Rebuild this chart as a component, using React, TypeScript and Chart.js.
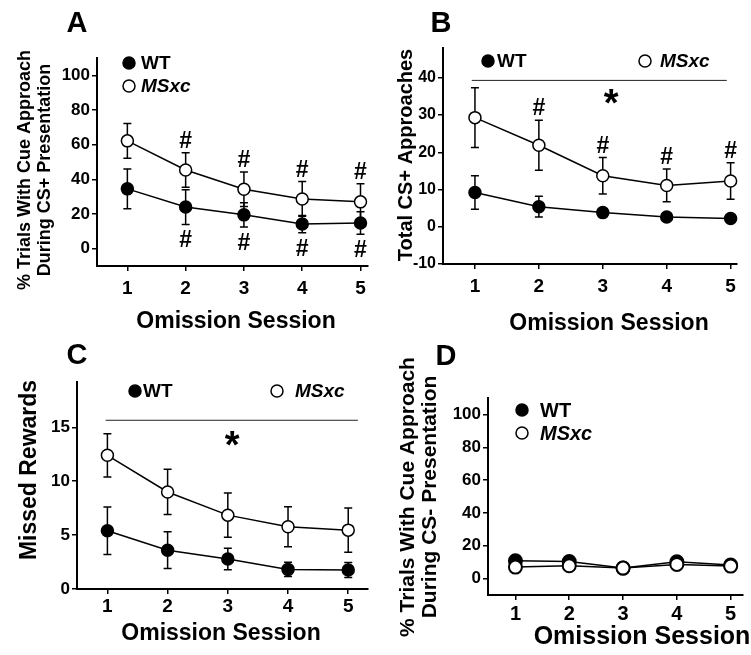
import React, { useEffect, useRef } from 'react';
import { Chart, registerables } from 'chart.js';
Chart.register(...registerables);

const FONT = '"Liberation Sans", Arial, Helvetica, sans-serif';

// ---------- data ----------
const sessions = [1, 2, 3, 4, 5];
const xTickValues = [1, 2, 3, 4, 5];

// Panel A: % trials with cue approach during CS+
const aWT = [34.5, 24, 19.5, 14.2, 14.8];
const aWTErr = [11.5, 10, 7, 5, 6.5];
const aMS = [62.2, 45.4, 34.3, 28.7, 27];
const aMSErr = [10, 10, 10, 10, 10.5];
const aYTicks = [0, 20, 40, 60, 80, 100];
const aHashAbove = [2, 3, 4, 5];
const aHashBelow = [2, 3, 4, 5];

// Panel B: total CS+ approaches
const bWT = [9.2, 5.4, 3.8, 2.6, 2.2];
const bWTErr = [4.5, 2.8, 1.1, 0.8, 0.7];
const bMS = [29.3, 21.9, 13.7, 11.1, 12.3];
const bMSErr = [8, 6.7, 4.9, 4.4, 4.9];
const bYTicks = [-10, 0, 10, 20, 30, 40];
const bHashAbove = [2, 3, 4, 5];
const bSigLine = [0.95, 4.94, 39.3]; // xStart, xEnd, y
const bStar = [3.13, 35.6];

// Panel C: missed rewards
const cWT = [5.4, 3.6, 2.78, 1.82, 1.76];
const cWTErr = [2.2, 1.7, 1.0, 0.65, 0.7];
const cMS = [12.4, 9.0, 6.85, 5.77, 5.46];
const cMSErr = [2.0, 2.1, 2.05, 1.85, 2.05];
const cYTicks = [0, 5, 10, 15];
const cSigLine = [0.97, 5.16, 15.65];
const cStar = [3.07, 14.2];

// Panel D: % trials with cue approach during CS-
const dWT = [10.8, 10.4, 6.4, 10.2, 8.3];
const dWTErr = [1.5, 1.5, 1.0, 1.5, 1.0];
const dMS = [7.0, 7.8, 6.4, 8.6, 7.6];
const dMSErr = [1.0, 1.0, 1.0, 1.0, 1.0];
const dYTicks = [0, 20, 40, 60, 80, 100];

// ---------- panel layout ----------
type LegendItem = { label: string; filled: boolean; x: number; y: number; tx: number; italic: boolean };
type Panel = {
  left: number; top: number; w: number; h: number;
  area: { l: number; t: number; r: number; b: number };
  xMin: number; xMax: number; yMin: number; yMax: number; yTicks: number[];
  wt: number[]; wtErr: number[]; ms: number[]; msErr: number[];
  yTickSize: number; xTickSize: number; xTickPad: number;
  xTitle: { x: number; y: number; size: number };
  yTitle: { lines: string[]; xs: number[]; y: number; size: number };
  letter: { t: string; x: number; y: number; size: number };
  legend: LegendItem[]; legendSize: number;
  hashAbove?: number[]; hashBelow?: number[];
  sigLine?: number[]; star?: number[];
  pointRadius: number; pointBorder: number;
};

const panels: Panel[] = [
  {
    left: 0, top: 0, w: 375, h: 330,
    area: { l: 97, t: 58, r: 373, b: 266 },
    xMin: 0.479, xMax: 5.12, yMin: -10, yMax: 110, yTicks: aYTicks,
    wt: aWT, wtErr: aWTErr, ms: aMS, msErr: aMSErr,
    yTickSize: 17, xTickSize: 19, xTickPad: 6,
    xTitle: { x: 236, y: 322, size: 23 },
    yTitle: { lines: ['% Trials With Cue Approach', 'During CS+ Presentation'], xs: [25, 45], y: 170, size: 18 },
    letter: { t: 'A', x: 77, y: 24, size: 29 },
    legend: [
      { label: 'WT', filled: true, x: 129, y: 63, tx: 141, italic: false },
      { label: 'MSxc', filled: false, x: 129, y: 86, tx: 141, italic: true },
    ],
    legendSize: 19,
    hashAbove: aHashAbove, hashBelow: aHashBelow,
    pointRadius: 6, pointBorder: 1.5,
  },
  {
    left: 375, top: 0, w: 376, h: 330,
    area: { l: 443, t: 48, r: 737, b: 264 },
    xMin: 0.5, xMax: 5.1, yMin: -10, yMax: 48, yTicks: bYTicks,
    wt: bWT, wtErr: bWTErr, ms: bMS, msErr: bMSErr,
    yTickSize: 16, xTickSize: 19, xTickPad: 6,
    xTitle: { x: 609, y: 324, size: 23 },
    yTitle: { lines: ['Total CS+ Approaches'], xs: [406], y: 155, size: 20 },
    letter: { t: 'B', x: 441, y: 24, size: 29 },
    legend: [
      { label: 'WT', filled: true, x: 488, y: 61, tx: 497, italic: false },
      { label: 'MSxc', filled: false, x: 645, y: 61, tx: 660, italic: true },
    ],
    legendSize: 19,
    hashAbove: bHashAbove, sigLine: bSigLine, star: bStar,
    pointRadius: 6, pointBorder: 1.5,
  },
  {
    left: 0, top: 330, w: 375, h: 325,
    area: { l: 77, t: 382, r: 373, b: 589 },
    xMin: 0.495, xMax: 5.32, yMin: 0, yMax: 19.2, yTicks: cYTicks,
    wt: cWT, wtErr: cWTErr, ms: cMS, msErr: cMSErr,
    yTickSize: 17, xTickSize: 19, xTickPad: 1,
    xTitle: { x: 221, y: 634, size: 23 },
    yTitle: { lines: ['Missed Rewards'], xs: [30], y: 470, size: 23 },
    letter: { t: 'C', x: 77, y: 356, size: 29 },
    legend: [
      { label: 'WT', filled: true, x: 135, y: 391, tx: 143, italic: false },
      { label: 'MSxc', filled: false, x: 277, y: 391, tx: 295, italic: true },
    ],
    legendSize: 19,
    sigLine: cSigLine, star: cStar,
    pointRadius: 6, pointBorder: 1.5,
  },
  {
    left: 375, top: 330, w: 376, h: 325,
    area: { l: 488, t: 398, r: 751, b: 595 },
    xMin: 0.49, xMax: 5.22, yMin: -10, yMax: 110, yTicks: dYTicks,
    wt: dWT, wtErr: dWTErr, ms: dMS, msErr: dMSErr,
    yTickSize: 17, xTickSize: 20, xTickPad: 2,
    xTitle: { x: 642, y: 637, size: 25 },
    yTitle: { lines: ['% Trials With Cue Approach', 'During CS- Presentation'], xs: [408, 430], y: 497, size: 21 },
    letter: { t: 'D', x: 446, y: 357, size: 29 },
    legend: [
      { label: 'WT', filled: true, x: 522, y: 410, tx: 540, italic: false },
      { label: 'MSxc', filled: false, x: 522, y: 433, tx: 540, italic: true },
    ],
    legendSize: 20,
    pointRadius: 6.5, pointBorder: 2,
  },
];

function makeChart(canvas: HTMLCanvasElement, p: Panel) {
  const ox = p.left;
  const oy = p.top;
  const deco = {
    id: 'deco',
    beforeDatasetsDraw(chart: any) {
      const ctx = chart.ctx as CanvasRenderingContext2D;
      const xs = chart.scales.x;
      const ys = chart.scales.y;
      ctx.save();
      ctx.strokeStyle = '#000';
      ctx.lineWidth = 1.5;
      const series = [
        [p.wt, p.wtErr],
        [p.ms, p.msErr],
      ];
      series.forEach(([vals, errs]) => {
        sessions.forEach((s, i) => {
          const x = xs.getPixelForValue(s);
          const yt = ys.getPixelForValue(vals[i] + errs[i]);
          const yb = ys.getPixelForValue(vals[i] - errs[i]);
          ctx.beginPath();
          ctx.moveTo(x, yt); ctx.lineTo(x, yb);
          ctx.moveTo(x - 4, yt); ctx.lineTo(x + 4, yt);
          ctx.moveTo(x - 4, yb); ctx.lineTo(x + 4, yb);
          ctx.stroke();
        });
      });
      ctx.restore();
    },
    afterDraw(chart: any) {
      const ctx = chart.ctx as CanvasRenderingContext2D;
      const xs = chart.scales.x;
      const ys = chart.scales.y;
      ctx.save();
      ctx.fillStyle = '#000';
      ctx.strokeStyle = '#000';

      // panel letter
      ctx.font = `bold ${p.letter.size}px ${FONT}`;
      ctx.textAlign = 'center';
      ctx.textBaseline = 'middle';
      ctx.fillText(p.letter.t, p.letter.x - ox, p.letter.y - oy);

      // x title
      ctx.font = `bold ${p.xTitle.size}px ${FONT}`;
      ctx.fillText('Omission Session', p.xTitle.x - ox, p.xTitle.y - oy);

      // y title
      ctx.font = `bold ${p.yTitle.size}px ${FONT}`;
      p.yTitle.lines.forEach((line, i) => {
        ctx.save();
        ctx.translate(p.yTitle.xs[i] - ox, p.yTitle.y - oy);
        ctx.rotate(-Math.PI / 2);
        ctx.fillText(line, 0, 0);
        ctx.restore();
      });

      // legend
      p.legend.forEach((it) => {
        ctx.beginPath();
        ctx.arc(it.x - ox, it.y - oy, 6, 0, Math.PI * 2);
        ctx.fillStyle = it.filled ? '#000' : '#fff';
        ctx.fill();
        ctx.lineWidth = 1.5;
        ctx.strokeStyle = '#000';
        ctx.stroke();
        ctx.fillStyle = '#000';
        ctx.font = `${it.italic ? 'italic ' : ''}bold ${p.legendSize}px ${FONT}`;
        ctx.textAlign = 'left';
        ctx.textBaseline = 'middle';
        ctx.fillText(it.label, it.tx - ox, it.y - oy + 1);
      });

      // significance hashes
      const hashSize = 23;
      ctx.font = `bold ${hashSize}px ${FONT}`;
      ctx.textAlign = 'center';
      ctx.textBaseline = 'alphabetic';
      (p.hashAbove || []).forEach((s) => {
        const i = sessions.indexOf(s);
        const x = xs.getPixelForValue(s);
        const y = ys.getPixelForValue(p.ms[i] + p.msErr[i]) - 13;
        ctx.fillText('#', x, y + hashSize * 0.35);
      });
      (p.hashBelow || []).forEach((s) => {
        const i = sessions.indexOf(s);
        const x = xs.getPixelForValue(s);
        const y = ys.getPixelForValue(p.wt[i] - p.wtErr[i]) + 15;
        ctx.fillText('#', x, y + hashSize * 0.35);
      });

      // group effect line and star
      if (p.sigLine) {
        ctx.lineWidth = 1;
        ctx.strokeStyle = '#222';
        ctx.beginPath();
        const yl = ys.getPixelForValue(p.sigLine[2]);
        ctx.moveTo(xs.getPixelForValue(p.sigLine[0]), yl);
        ctx.lineTo(xs.getPixelForValue(p.sigLine[1]), yl);
        ctx.stroke();
      }
      if (p.star) {
        const starSize = 38;
        ctx.font = `bold ${starSize}px ${FONT}`;
        ctx.textAlign = 'center';
        ctx.textBaseline = 'alphabetic';
        ctx.fillText('*', xs.getPixelForValue(p.star[0]), ys.getPixelForValue(p.star[1]) + starSize * 0.58);
      }
      ctx.restore();
    },
  };

  const mkData = (vals: number[]) => sessions.map((s, i) => ({ x: s, y: vals[i] }));

  const grid = {
    display: true,
    drawOnChartArea: false,
    drawTicks: true,
    tickLength: 5,
    color: '#000',
    lineWidth: 1.5,
  };
  const border = { display: true, color: '#000', width: 2 };

  return new Chart(canvas, {
    type: 'line',
    data: {
      datasets: [
        {
          label: 'WT',
          data: mkData(p.wt),
          borderColor: '#000',
          backgroundColor: '#000',
          borderWidth: 1.5,
          pointRadius: p.pointRadius,
          pointBorderWidth: p.pointBorder,
          pointBackgroundColor: '#000',
          pointBorderColor: '#000',
          tension: 0,
          order: 2,
          clip: false as any,
        },
        {
          label: 'MSxc',
          data: mkData(p.ms),
          borderColor: '#000',
          backgroundColor: '#fff',
          borderWidth: 1.5,
          pointRadius: p.pointRadius,
          pointBorderWidth: p.pointBorder,
          pointBackgroundColor: '#fff',
          pointBorderColor: '#000',
          tension: 0,
          order: 1,
          clip: false as any,
        },
      ],
    },
    options: {
      animation: false,
      responsive: false,
      maintainAspectRatio: false,
      events: [],
      layout: {
        padding: { top: p.area.t - oy, right: p.left + p.w - p.area.r, left: 0, bottom: 0 },
      },
      plugins: { legend: { display: false }, tooltip: { enabled: false } },
      scales: {
        x: {
          type: 'linear',
          min: p.xMin,
          max: p.xMax,
          afterBuildTicks: (s: any) => { s.ticks = xTickValues.map((v) => ({ value: v })); },
          afterFit: (s: any) => {
            s.height = p.top + p.h - p.area.b;
            s.paddingLeft = 0; s.paddingRight = 0;
          },
          grid,
          border,
          ticks: {
            color: '#000',
            padding: p.xTickPad,
            font: { family: FONT, weight: 'bold', size: p.xTickSize },
            callback: (v: any) => String(v),
            maxRotation: 0,
            autoSkip: false,
          },
        },
        y: {
          type: 'linear',
          min: p.yMin,
          max: p.yMax,
          afterBuildTicks: (s: any) => { s.ticks = p.yTicks.map((v) => ({ value: v })); },
          afterFit: (s: any) => {
            s.width = p.area.l - ox;
            s.paddingTop = 0; s.paddingBottom = 0;
          },
          grid,
          border,
          ticks: {
            color: '#000',
            padding: 2,
            font: { family: FONT, weight: 'bold', size: p.yTickSize },
            callback: (v: any) => String(v),
            autoSkip: false,
          },
        },
      },
    } as any,
    plugins: [deco],
  });
}

function PanelChart({ p }: { p: Panel }) {
  const ref = useRef<HTMLCanvasElement | null>(null);
  useEffect(() => {
    if (!ref.current) return;
    const chart = makeChart(ref.current, p);
    return () => chart.destroy();
  }, [p]);
  return (
    <canvas
      ref={ref}
      width={p.w}
      height={p.h}
      style={{ position: 'absolute', left: p.left, top: p.top, width: p.w, height: p.h, display: 'block' }}
    />
  );
}

export default function App() {
  return (
    <div style={{ position: 'absolute', left: 0, top: 0, width: 751, height: 655, background: '#fff', overflow: 'hidden' }}>
      {panels.map((p, i) => (
        <PanelChart key={i} p={p} />
      ))}
    </div>
  );
}
